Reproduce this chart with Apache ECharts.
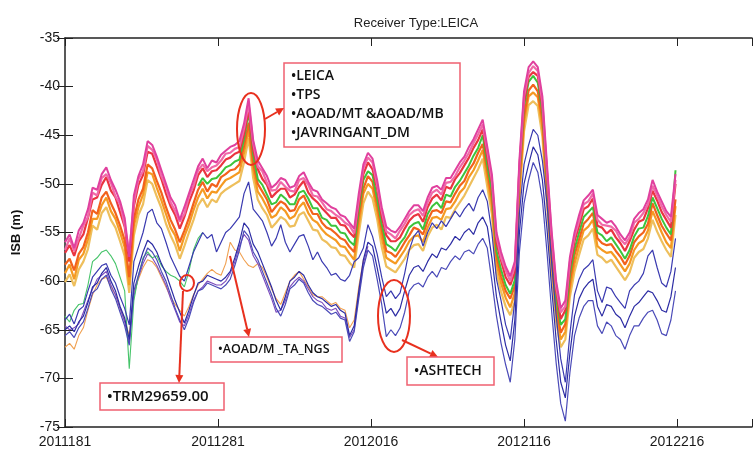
<!DOCTYPE html>
<html><head><meta charset="utf-8">
<script src="https://cdn.jsdelivr.net/npm/echarts@6/dist/echarts.min.js"></script>
<style>html,body{margin:0;padding:0;background:#fff}#c{width:755px;height:455px}</style>
</head><body><div id="c"></div>
<script>
// Day offsets from 2011181 (every 3 days)
const days = [0,3,6,9,12,15,18,21,24,27,30,33,36,39,42,45,48,51,54,57,60,63,66,69,72,75,78,81,84,87,90,93,96,99,102,105,108,111,114,117,120,123,126,129,132,135,138,141,144,147,150,153,156,159,162,165,168,171,174,177,180,183,186,189,192,195,198,201,204,207,210,213,216,219,222,225,228,231,234,237,240,243,246,249,252,255,258,261,264,267,270,273,276,279,282,285,288,291,294,297,300,303,306,309,312,315,318,321,324,327,330,333,336,339,342,345,348,351,354,357,360,363,366,369,372,375,378,381,384,387,390,393,396,399];
const tickValues = [0,100,200,300,400];
const tickLabels = ['2011181','2011281','2012016','2012116','2012216'];
const yTicks = [-75,-70,-65,-60,-55,-50,-45,-40,-35];

// Upper band (LEICA, TPS, AOAD/MT & AOAD/MB, JAVRINGANT_DM)
const magentaTop = [-56.0,-55.2,-56.6,-54.8,-54.0,-52.6,-50.4,-50.6,-49.0,-48.3,
 -49.6,-50.6,-51.8,-53.5,-57.5,-51.2,-49.2,-48.0,-45.6,-46.0,
 -47.2,-48.6,-50.0,-51.4,-52.2,-53.7,-52.4,-51.0,-49.6,-48.2,
 -47.4,-48.4,-47.6,-47.8,-47.0,-46.6,-46.2,-46.0,-45.6,-43.8,
 -41.2,-45.5,-47.6,-48.4,-49.2,-50.4,-50.0,-49.4,-49.6,-50.4,
 -50.2,-49.2,-48.8,-49.8,-50.6,-50.8,-51.6,-52.0,-52.4,-52.6,
 -53.2,-53.4,-54.0,-54.6,-51.0,-48.0,-46.8,-47.4,-49.6,-52.4,
 -54.4,-54.8,-55.0,-54.4,-53.6,-52.8,-52.2,-52.2,-52.8,-51.4,
 -50.4,-50.2,-50.6,-49.4,-49.4,-48.6,-47.8,-47.2,-46.2,-45.4,
 -44.4,-43.4,-46.2,-49.0,-55.0,-57.0,-58.5,-59.5,-58.0,-47.5,
 -40.5,-38.0,-37.4,-38.0,-41.0,-48.0,-54.8,-60.0,-62.8,-62.0,
 -57.5,-55.0,-53.2,-51.7,-51.2,-50.6,-53.2,-53.6,-54.0,-53.8,
 -54.4,-55.2,-55.8,-55.0,-53.6,-53.0,-52.6,-51.6,-49.6,-50.8,
 -51.8,-52.8,-53.4,-49.0];
const pinkBand = [-56.8,-55.6,-56.9,-55.6,-54.3,-53.4,-50.9,-51.2,-49.4,-49.0,
 -49.9,-51.3,-52.1,-54.2,-57.2,-51.9,-49.5,-48.7,-46.1,-46.5,
 -47.5,-49.2,-50.3,-51.9,-52.8,-53.9,-53.1,-51.3,-50.2,-48.6,
 -48.0,-48.7,-48.3,-48.1,-47.6,-46.9,-46.8,-46.4,-46.2,-44.3,
 -41.8,-45.8,-48.2,-48.7,-49.9,-50.7,-50.6,-49.8,-50.3,-50.7,
 -50.8,-49.6,-49.4,-50.1,-51.2,-51.3,-51.9,-52.6,-52.8,-53.2,
 -53.5,-54.0,-54.3,-55.1,-51.6,-48.4,-47.3,-47.8,-50.1,-52.8,
 -54.9,-55.2,-55.6,-54.8,-54.1,-53.2,-52.8,-52.6,-53.3,-51.9,
 -50.9,-50.6,-51.1,-49.9,-49.8,-49.2,-48.3,-47.6,-46.8,-45.8,
 -44.9,-43.9,-46.6,-49.6,-55.4,-57.6,-58.9,-60.0,-58.4,-48.2,
 -41.0,-38.6,-37.9,-38.4,-41.6,-48.6,-55.2,-60.5,-63.2,-62.6,
 -58.0,-55.4,-53.8,-52.1,-51.8,-51.0,-53.7,-54.2,-54.3,-54.4,
 -54.8,-55.7,-56.2,-55.5,-54.0,-53.6,-53.0,-52.1,-50.2,-51.2,
 -52.3,-53.2,-53.9,-49.6];
const redBand = [-57.1,-56.3,-57.4,-55.9,-55.2,-53.5,-51.6,-51.4,-50.1,-49.3,
 -50.7,-51.4,-52.9,-54.4,-58.0,-52.3,-50.1,-49.1,-46.7,-46.9,
 -48.2,-49.5,-51.0,-52.3,-53.2,-54.6,-53.4,-51.9,-50.7,-49.1,
 -48.4,-49.3,-48.7,-48.6,-48.1,-47.5,-47.3,-46.9,-46.7,-44.9,
 -42.3,-46.5,-48.5,-49.5,-50.1,-51.4,-50.9,-50.5,-50.5,-51.4,
 -51.1,-50.3,-49.7,-50.9,-51.5,-51.9,-52.5,-53.0,-53.5,-53.5,
 -54.2,-54.3,-55.0,-55.5,-52.1,-49.0,-47.8,-48.5,-50.5,-53.4,
 -55.3,-55.9,-55.9,-55.5,-54.6,-53.8,-53.3,-53.1,-53.9,-52.4,
 -51.5,-51.1,-51.7,-50.3,-50.5,-49.5,-48.9,-48.1,-47.3,-46.3,
 -45.5,-44.4,-47.3,-49.9,-56.1,-57.9,-59.6,-60.4,-59.1,-48.4,
 -41.6,-39.0,-38.5,-38.9,-42.1,-48.9,-55.9,-61.0,-63.9,-63.0,
 -58.6,-55.9,-54.3,-52.6,-52.3,-51.5,-54.3,-54.5,-55.1,-54.7,
 -55.5,-56.1,-56.9,-55.9,-54.7,-53.9,-53.7,-52.5,-50.7,-51.7,
 -52.9,-53.7,-54.5,-50.0];
// green band starts at day 87
const greenBand = [-50.2,
 -49.4,-50.0,-49.5,-49.4,-48.9,-48.3,-48.1,-47.7,-47.5,-45.4,
 -42.6,-47.0,-49.5,-50.1,-51.1,-52.1,-51.9,-51.1,-51.5,-52.1,
 -52.1,-50.9,-50.7,-51.5,-52.5,-52.5,-53.5,-53.7,-54.3,-54.3,
 -55.0,-55.1,-55.9,-56.3,-52.8,-49.6,-48.7,-49.1,-51.5,-54.1,
 -56.2,-56.5,-56.9,-56.1,-55.5,-54.5,-54.1,-53.9,-54.7,-53.1,
 -52.3,-51.9,-52.5,-51.1,-51.3,-50.3,-49.7,-48.9,-48.1,-47.1,
 -46.3,-45.0,-48.1,-50.7,-56.9,-58.8,-60.4,-61.3,-59.9,-49.0,
 -42.0,-39.5,-38.9,-39.6,-42.6,-49.5,-56.6,-61.8,-64.5,-63.9,
 -59.3,-56.7,-55.0,-53.4,-52.9,-52.4,-55.0,-55.3,-55.9,-55.5,
 -56.2,-56.9,-57.7,-56.8,-55.4,-54.6,-54.5,-53.3,-51.4,-52.5,
 -53.6,-54.5,-55.2,-48.6];
const orangeRedBand = [-58.3,-57.7,-58.9,-57.2,-56.5,-55.0,-52.7,-53.1,-51.4,-50.8,
 -52.0,-53.0,-54.3,-55.8,-59.6,-53.6,-51.6,-50.5,-48.0,-48.4,
 -49.7,-50.9,-52.4,-53.7,-54.7,-56.0,-54.8,-53.5,-52.0,-50.6,
 -49.8,-50.8,-50.0,-50.3,-49.3,-49.0,-48.6,-48.5,-48.0,-46.1,
 -43.7,-47.9,-50.0,-50.8,-51.6,-52.9,-52.3,-51.8,-52.1,-52.8,
 -52.7,-51.6,-51.2,-52.2,-53.1,-53.1,-54.0,-54.5,-54.7,-55.1,
 -55.6,-55.8,-56.5,-57.0,-53.3,-50.5,-49.2,-49.8,-52.1,-54.7,
 -56.9,-57.1,-57.5,-56.8,-56.0,-55.3,-54.5,-54.7,-55.2,-53.8,
 -52.8,-52.7,-53.0,-51.8,-51.9,-51.0,-50.2,-49.7,-48.6,-47.9,
 -46.8,-45.9,-48.6,-51.5,-57.4,-59.5,-61.0,-61.8,-60.5,-49.9,
 -43.0,-40.4,-39.8,-40.5,-43.4,-50.4,-57.3,-62.5,-65.3,-64.4,
 -60.0,-57.3,-55.7,-54.1,-53.6,-53.0,-55.6,-56.1,-56.3,-56.2,
 -56.9,-57.5,-58.3,-57.4,-56.0,-55.4,-55.0,-54.1,-52.0,-53.2,
 -54.3,-55.1,-55.8,-51.6];
const orangeBand = [-59.2,-58.3,-59.8,-57.8,-57.2,-55.7,-53.6,-53.6,-52.2,-51.4,
 -52.8,-53.6,-55.0,-56.5,-60.4,-54.3,-52.4,-51.1,-48.8,-49.0,
 -50.4,-51.7,-53.1,-54.5,-55.3,-56.9,-55.4,-54.2,-52.7,-51.4,
 -50.5,-51.5,-50.8,-50.9,-50.2,-49.6,-49.4,-49.1,-48.8,-46.8,
 -44.4,-48.5,-50.8,-51.5,-52.4,-53.5,-53.2,-52.4,-52.8,-53.6,
 -53.3,-52.4,-51.9,-53.0,-53.7,-54.0,-54.7,-55.2,-55.5,-55.8,
 -56.4,-56.5,-57.2,-57.8,-54.2,-51.0,-50.0,-50.5,-52.8,-55.5,
 -57.6,-57.9,-58.2,-57.5,-56.8,-55.9,-55.4,-55.3,-56.0,-54.5,
 -53.5,-53.4,-53.7,-52.6,-52.5,-51.8,-50.9,-50.4,-49.3,-48.6,
 -47.6,-46.5,-49.4,-52.2,-58.2,-60.2,-61.7,-62.7,-61.2,-50.7,
 -43.7,-41.0,-40.6,-41.1,-44.2,-51.1,-58.0,-63.2,-66.0,-65.2,
 -60.7,-58.2,-56.4,-54.8,-54.4,-53.7,-56.4,-56.8,-57.1,-57.0,
 -57.6,-58.3,-59.0,-58.2,-56.8,-56.1,-55.8,-54.8,-52.8,-53.9,
 -55.0,-56.0,-56.6,-52.3];
const goldBand = [-60.1,-59.3,-60.5,-58.8,-58.0,-56.7,-54.3,-54.7,-53.0,-52.4,
 -53.7,-54.5,-55.9,-57.4,-61.2,-55.3,-53.2,-52.1,-49.6,-50.0,
 -51.3,-52.5,-54.1,-55.3,-56.3,-57.7,-56.4,-55.0,-53.7,-52.2,
 -51.5,-52.4,-51.6,-51.9,-51.0,-50.6,-50.3,-50.0,-49.7,-47.8,
 -45.3,-49.4,-51.6,-52.5,-53.2,-54.5,-54.0,-53.4,-53.7,-54.4,
 -54.3,-53.2,-52.9,-53.8,-54.7,-54.8,-55.7,-56.0,-56.5,-56.6,
 -57.3,-57.4,-58.1,-58.6,-55.1,-52.0,-50.8,-51.5,-53.6,-56.5,
 -58.5,-58.8,-59.1,-58.4,-57.7,-56.8,-56.3,-56.2,-56.9,-55.4,
 -54.5,-54.2,-54.7,-53.4,-53.5,-52.6,-51.9,-51.2,-50.3,-49.4,
 -48.5,-47.4,-50.3,-53.1,-59.1,-61.1,-62.6,-63.5,-62.1,-51.6,
 -44.6,-41.9,-41.5,-42.0,-45.1,-52.0,-58.9,-64.1,-66.8,-66.0,
 -61.6,-59.0,-57.3,-55.7,-55.3,-54.6,-57.3,-57.6,-58.1,-57.8,
 -58.5,-59.2,-59.9,-59.1,-57.6,-57.0,-56.7,-55.6,-53.7,-54.9,
 -55.9,-56.8,-57.5,-53.2];

// Lower group (ASHTECH and others)
const navyA = [-64.0,-63.4,-64.4,-63.0,-62.6,-61.0,-59.6,-59.0,-58.4,-58.2,-59.4,-60.2,-61.6,-62.8,-64.5,
 -58.0,-56.5,-55.0,-53.0,-52.6,-54.0,-54.6,-56.0,-57.5,-58.5,-59.5,-60.0,-58.5,-57.0,-56.0,-55.0,-55.6,-55.2,-57.0,
 -56.0,-55.0,-54.6,-54.0,-53.4,-51.0,-49.8,-52.6,-53.2,-53.8,-55.0,-56.4,-55.6,-54.2,-56.0,-57.0,-56.2,-55.4,-55.2,-56.4,-57.8,-57.0,-58.0,-58.6,-59.4,-59.2,-59.8,-60.0,-59.4,-58.0,-57.6,-56.6,-54.2,
 -55.4,-57.2,-59.6,-61.6,-61.0,-61.8,-61.2,-59.2,-56.8,-55.4,-54.8,-56.4,-55.0,-54.0,-54.6,-53.8,-54.4,-53.6,-52.8,-53.4,-52.6,-52.0,-52.8,-51.4,-50.6,-51.8,-55.0,-59.8,-62.0,-64.5,-66.0,-62.0,-53.0,-48.0,
 -46.0,-44.4,-45.0,-47.6,-52.0,-58.0,-63.5,-68.0,-70.4,-65.4,-61.4,-59.8,-58.8,-58.4,-57.8,-61.0,-62.2,-60.6,-60.8,-61.6,-62.2,-62.8,-61.0,-60.4,-60.0,-59.2,-57.4,-56.8,-58.6,-60.2,-60.6,-59.0,-55.6];
const navyB = [-65.0,-64.6,-65.2,-64.2,-63.6,-62.2,-60.6,-60.2,-59.2,-58.6,-60.0,-61.0,-62.6,-63.8,-66.0,
 -60.2,-58.5,-57.0,-55.8,-56.2,-57.0,-58.2,-59.2,-60.6,-62.0,-63.2,-64.3,-63.0,-61.5,-60.2,-60.0,-59.4,-59.6,-59.8,
 -60.0,-59.6,-59.0,-57.6,-56.0,-54.0,-54.6,-56.2,-57.0,-58.2,-59.4,-60.6,-62.0,-63.0,-61.6,-60.0,-59.6,-59.0,-59.4,-60.4,-61.2,-61.6,-61.8,-62.2,-62.6,-62.4,-63.0,-63.3,-65.6,-64.6,-61.0,-57.8,-56.0,
 -56.4,-58.6,-61.0,-63.3,-62.8,-63.6,-62.8,-61.0,-59.4,-58.6,-58.4,-59.0,-58.0,-57.2,-57.6,-56.6,-56.8,-56.2,-55.4,-55.8,-55.0,-54.6,-55.2,-54.0,-53.4,-54.4,-57.6,-61.6,-64.2,-66.6,-68.2,-64.0,-55.0,-50.0,
 -48.0,-46.2,-47.0,-49.6,-54.6,-60.6,-66.0,-70.4,-72.0,-67.4,-63.6,-61.8,-60.8,-60.2,-59.8,-62.6,-63.6,-62.4,-62.6,-63.4,-63.8,-64.8,-63.6,-62.6,-62.2,-61.6,-61.0,-61.2,-62.0,-63.0,-63.2,-61.6,-58.6];
const navyC = [-65.6,-65.2,-65.8,-64.8,-64.2,-62.8,-61.2,-60.8,-59.8,-59.4,-60.8,-61.8,-63.2,-64.6,-66.6,
 -61.0,-59.4,-57.8,-56.6,-57.0,-57.8,-59.0,-60.0,-61.4,-62.8,-64.0,-65.0,-63.8,-62.2,-61.0,-60.8,-60.2,-60.4,-60.6,
 -60.8,-60.4,-59.8,-58.4,-56.8,-54.8,-55.4,-57.0,-57.8,-59.0,-60.2,-61.4,-62.8,-63.6,-62.4,-60.8,-60.4,-59.8,-60.2,-61.2,-62.0,-62.4,-62.6,-63.0,-63.4,-63.2,-63.8,-64.0,-66.2,-65.2,-61.8,-58.6,-56.8,
 -57.4,-59.8,-62.4,-65.7,-65.0,-65.6,-64.8,-63.2,-61.0,-60.4,-60.2,-60.6,-59.6,-59.0,-59.6,-58.6,-58.8,-58.0,-57.4,-57.8,-57.0,-56.8,-57.2,-56.2,-55.6,-56.6,-60.0,-63.6,-66.4,-68.6,-70.4,-66.0,-57.0,-52.0,
 -49.6,-47.8,-48.8,-51.6,-57.0,-63.0,-68.4,-72.6,-74.4,-69.4,-65.6,-63.8,-62.6,-62.0,-62.0,-64.6,-65.4,-64.2,-64.6,-65.6,-66.0,-67.0,-65.6,-64.6,-64.6,-63.8,-63.2,-63.0,-64.0,-65.4,-65.6,-64.0,-61.0];
// purple line, day 0 to 198
const purpleLow = [-64.6,-65.0,-64.8,-64.4,-63.2,-62.0,-60.8,-59.8,-59.4,-59.0,-60.4,-61.4,-62.8,-64.2,-66.4,
 -61.6,-59.6,-58.2,-57.2,-57.6,-58.4,-59.4,-60.4,-61.8,-63.0,-64.2,-64.6,-63.4,-62.0,-61.0,-60.6,-60.0,-60.2,-60.4,
 -60.4,-60.0,-59.2,-58.0,-56.4,-55.2,-55.8,-57.4,-58.2,-59.4,-60.6,-61.8,-63.2,-63.0,-62.0,-60.6,-60.0,-59.6,-60.0,-60.8,-61.6,-62.0,-62.2,-62.8,-63.0,-62.8,-63.6,-63.8,-65.8,-65.0,-61.4,-58.2,-56.4];
// TRM29659.00, day 0 to 90
const trmGreen = [-63.6,-64.2,-63.0,-62.4,-62.3,-60.4,-58.0,-57.6,-57.0,-56.8,-57.4,-58.2,-59.6,-61.0,-69.0,
 -62.0,-59.4,-57.6,-57.0,-57.6,-57.4,-58.4,-59.0,-59.4,-59.6,-60.0,-60.6,-59.0,-56.8,-55.6,-55.0];
// AOAD/M_TA_NGS, day 0 to 195
const aoadNgs = [-66.8,-66.4,-67.0,-65.6,-64.8,-63.0,-61.4,-60.4,-59.8,-59.6,-60.6,-61.4,-62.8,-64.0,-65.6,
 -61.2,-59.8,-58.6,-57.8,-58.0,-58.6,-59.6,-60.6,-61.6,-62.4,-63.0,-63.6,-62.6,-61.4,-60.4,-59.8,-59.2,-58.8,-59.2,
 -59.4,-58.2,-56.0,-56.8,-57.0,-57.8,-58.4,-58.6,-58.2,-58.6,-59.6,-60.8,-61.8,-62.4,-61.2,-60.0,-59.4,-59.0,-59.8,-60.6,-61.4,-61.6,-61.6,-62.0,-62.4,-62.2,-62.8,-63.0,-64.8,-64.0,-60.6,-57.8];

function mk(arr, start, color, width, z) {
  return {
    type: 'line', data: arr.map((v, k) => [days[start + k], v]),
    symbol: 'none', showSymbol: false, silent: true,
    lineStyle: { color: color, width: width }, z: z
  };
}

const series = [
  mk(goldBand, 0, '#eebf5c', 2.2, 2),
  mk(orangeBand, 0, '#f59a22', 2.2, 2),
  mk(orangeRedBand, 0, '#f2621c', 2.2, 2),
  mk(greenBand, 29, '#3cc43c', 2, 2),
  mk(redBand, 0, '#ea3440', 2.2, 2),
  mk(pinkBand, 0, '#f06aa8', 2.2, 2),
  mk(magentaTop, 0, '#e0409e', 2, 2),
  mk(aoadNgs, 0, '#f0a050', 1.1, 2),
  mk(purpleLow, 0, '#7d4bbd', 1.1, 2),
  mk(trmGreen, 0, '#46c46a', 1.1, 2),
  mk(navyC, 0, '#4a4ab8', 1.2, 3),
  mk(navyB, 0, '#2c2ca4', 1.2, 3),
  mk(navyA, 0, '#3a3ab0', 1.2, 3)
];

// annotation helpers
const RED = '#e8301e', BOX = '#f06070';
function arrow(x1, y1, x2, y2) {
  const a = Math.atan2(y2 - y1, x2 - x1), L = 8, W = 4;
  const bx = x2 - L * Math.cos(a), by = y2 - L * Math.sin(a);
  return [
    { type: 'line', shape: { x1: x1, y1: y1, x2: bx, y2: by }, style: { stroke: RED, lineWidth: 2 }, z: 10 },
    { type: 'polygon', shape: { points: [[x2, y2], [bx - W * Math.sin(a), by + W * Math.cos(a)], [bx + W * Math.sin(a), by - W * Math.cos(a)]] }, style: { fill: RED }, z: 10 }
  ];
}
function box(x, y, w, h, lines, fs, lh) {
  const els = [{ type: 'rect', shape: { x: x, y: y, width: w, height: h }, style: { fill: '#fff', stroke: BOX, lineWidth: 1.5 }, z: 10 }];
  lines.forEach((t, i) => els.push({ type: 'text', x: x + 7, y: y + h / 2 + (i - (lines.length - 1) / 2) * lh, style: { text: t, font: '600 ' + fs + 'px "Open Sans", sans-serif', fill: '#111', textVerticalAlign: 'middle', verticalAlign: 'middle' }, z: 11 }));
  return els;
}
function ell(cx, cy, rx, ry) {
  return { type: 'ellipse', shape: { cx: cx, cy: cy, rx: rx, ry: ry }, style: { fill: null, stroke: RED, lineWidth: 2 }, z: 10 };
}

const graphics = [].concat(
  box(284, 63, 176, 84, ['\u2022LEICA', '\u2022TPS', '\u2022AOAD/MT &AOAD/MB', '\u2022JAVRINGANT_DM'], 14, 19),
  [ell(251, 129, 14, 36)], arrow(265, 119, 284, 108),
  box(100, 383, 124, 27, ['\u2022TRM29659.00'], 15, 18),
  [ell(187, 283, 7, 8)], arrow(183, 291, 179, 383),
  box(211, 337, 131, 25, ['\u2022AOAD/M _TA_NGS'], 12.5, 18),
  arrow(230, 256, 249, 337),
  [ell(394, 316, 16, 36)], arrow(402, 340, 438, 357),
  box(407, 357, 87, 28, ['\u2022ASHTECH'], 14, 18)
);

const chart = echarts.init(document.getElementById('c'), null, { renderer: 'canvas' });
const axisFont = { fontFamily: '"Liberation Sans", Arial, sans-serif', fontSize: 14, color: '#1a1a1a' };
const tickStyle = { inside: true, length: 8, lineStyle: { color: '#222' } };
chart.setOption({
  animation: false,
  backgroundColor: '#fff',
  title: { text: 'Receiver Type:LEICA', left: 411, top: 12, textAlign: 'center',
    textStyle: { fontFamily: '"Liberation Sans", Arial, sans-serif', fontSize: 13, fontWeight: 'normal', color: '#222' } },
  grid: { left: 65, top: 38, width: 693, height: 389 },
  xAxis: [
    { type: 'value', min: 0, max: 449, interval: 100, position: 'bottom',
      axisLine: { lineStyle: { color: '#222', width: 1.5 } },
      axisTick: tickStyle,
      splitLine: { show: false }, showMaxLabel: false,
      axisLabel: Object.assign({ margin: 8, formatter: v => { const k = tickValues.indexOf(v); return k >= 0 ? tickLabels[k] : ''; } }, axisFont) },
    { type: 'value', min: 0, max: 449, interval: 100, position: 'top',
      axisLine: { lineStyle: { color: '#222', width: 1.5 } },
      axisTick: tickStyle,
      splitLine: { show: false }, axisLabel: { show: false } }
  ],
  yAxis: [
    { type: 'value', min: yTicks[0], max: yTicks[yTicks.length - 1], interval: 5, position: 'left',
      name: 'ISB (m)', nameLocation: 'middle', nameGap: 42, nameRotate: 90,
      nameTextStyle: { fontFamily: '"Liberation Sans", Arial, sans-serif', fontSize: 13, fontWeight: 'bold', color: '#111' },
      axisLine: { lineStyle: { color: '#222', width: 1.5 } },
      axisTick: tickStyle,
      splitLine: { show: false },
      axisLabel: Object.assign({ margin: 5 }, axisFont) },
    { type: 'value', min: yTicks[0], max: yTicks[yTicks.length - 1], interval: 5, position: 'right',
      axisLine: { show: false },
      axisTick: Object.assign({ show: true }, tickStyle),
      splitLine: { show: false }, axisLabel: { show: false } }
  ],
  series: series,
  graphic: { elements: graphics }
});
</script>
</body></html>
